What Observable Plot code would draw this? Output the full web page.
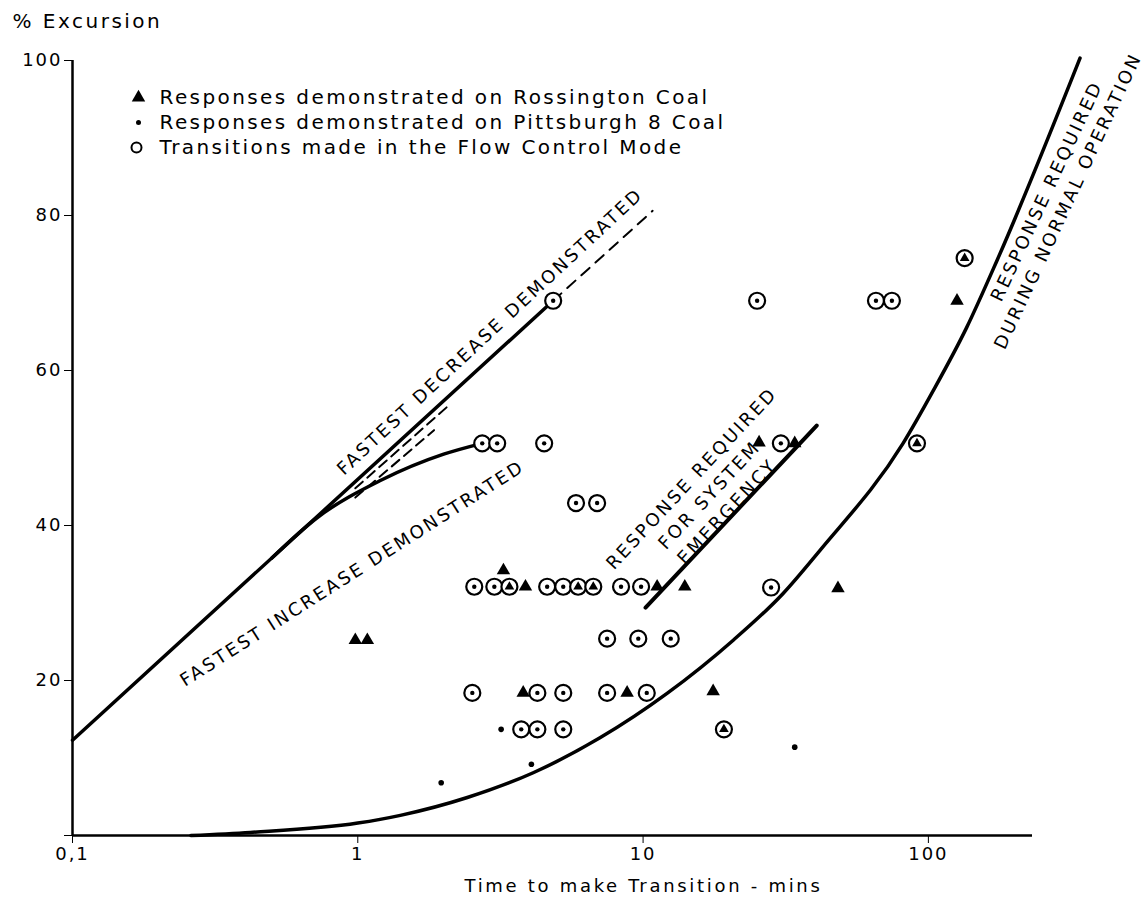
<!DOCTYPE html>
<html><head><meta charset="utf-8">
<script src="https://cdn.jsdelivr.net/npm/d3@7"></script>
<script src="https://cdn.jsdelivr.net/npm/@observablehq/plot@0.6"></script>
<style>html,body{margin:0;padding:0;background:#fff}</style>
</head><body><div id="chart"></div>
<script>
// ---- data ----
const xTicks = [0.1, 1, 10, 100];
const xTickLabels = ["0,1", "1", "10", "100"];
const yTicks = [0, 20, 40, 60, 80, 100];
const yTitle = "% Excursion";
const xTitle = "Time to make Transition - mins";
const legendLabels = [
  "Responses demonstrated on Rossington Coal",
  "Responses demonstrated on Pittsburgh 8 Coal",
  "Transitions made in the Flow Control Mode"
];

// Rossington coal responses (filled triangles)
const rossington = [
  [0.98, 25.2], [1.08, 25.2], [3.24, 34.2], [3.87, 32.1], [11.2, 32.1], [14.0, 32.1],
  [48.2, 31.9], [3.80, 18.4], [8.79, 18.4], [17.6, 18.6], [25.5, 50.7], [34, 50.6], [126, 69]
];
// Pittsburgh 8 coal responses (small dots)
const pittsburgh = [[1.96, 6.8], [3.18, 13.7], [4.06, 9.2], [34, 11.4]];
// Flow control mode transitions (circles)
const flowControl = [
  [4.84, 69], [25.1, 69], [65.5, 69], [74.5, 69],
  [2.73, 50.6], [3.08, 50.6], [4.5, 50.6], [30.4, 50.6],
  [5.82, 42.9], [6.90, 42.9],
  [2.56, 32.1], [3.01, 32.1], [4.61, 32.1], [5.25, 32.1], [8.37, 32.1], [9.84, 32.1], [28.1, 32.0],
  [7.48, 25.4], [9.62, 25.4], [12.5, 25.4],
  [2.52, 18.4], [4.26, 18.4], [5.25, 18.4], [7.48, 18.4], [10.3, 18.4],
  [3.74, 13.7], [4.26, 13.7], [5.25, 13.7]
];
// Flow control transitions that are also Rossington responses (circle + triangle)
const flowAndRossington = [[3.40, 32.1], [5.92, 32.1], [6.69, 32.1], [19.2, 13.7], [91.2, 50.6], [134, 74.5]];

// Curves
const fastestDecrease = [[0.1, 12.3], [4.84, 69]];
const fastestDecreaseExt = [[4.84, 69], [10.8, 80.6]];
const dashUpper = [[0.98, 44.8], [2.1, 55.6]];
const dashLower = [[0.98, 43.6], [1.85, 52.3]];
const fastestIncrease = [[0.5, 35.8], [0.72, 41.0], [1.2, 45.8], [2.0, 49.2], [2.73, 50.6]];
const emergency = [[10.2, 29.4], [40.6, 52.9]];
const normalOp = [
  [0.26, 0], [0.42, 0.4], [1.0, 1.6], [1.41, 2.6], [2.42, 4.9], [4.12, 8.1], [7.06, 12.6],
  [12.1, 18.3], [20.7, 25.2], [30.9, 31.2], [41.7, 36.8], [81.5, 50.6], [104, 57.4],
  [136, 65.5], [174, 74.2], [340, 100.3]
];

// Curve annotations (anchored in data space)
const labelDecrease = {x: 2.91, y: 65.0, text: "FASTEST DECREASE DEMONSTRATED"};
const labelIncrease = {x: 0.957, y: 33.8, text: "FASTEST INCREASE DEMONSTRATED"};
const labelEmergency = {x: 16.9, y: 44.1, text: "RESPONSE REQUIRED\nFOR SYSTEM\nEMERGENCY"};
const labelNormal = {x: 280, y: 82.6, text: "RESPONSE REQUIRED\nDURING NORMAL OPERATION"};

// ---- chart ----
const F = "'DejaVu Sans', sans-serif";
const lineOpts = {x: d => d[0], y: d => d[1], stroke: "black", strokeWidth: 3.5, curve: "monotone-x"};
const legendText = (label, dy) => Plot.text([label], {frameAnchor: "top-left", dx: 87, dy, text: d => d, textAnchor: "start", lineAnchor: "middle", fontSize: 20, fill: "black", ariaDescription: "legend"});

const plot = Plot.plot({
  width: 1148,
  height: 901,
  marginLeft: 72,
  marginRight: 116,
  marginTop: 60,
  marginBottom: 66,
  style: {fontFamily: F, fontSize: "18px", color: "black", background: "white", letterSpacing: "2px"},
  x: {type: "log", domain: [0.1, 231.7], ticks: xTicks, tickFormat: d => xTickLabels[xTicks.indexOf(d)] ?? "", tickSize: 8, tickPadding: 4, label: null},
  y: {domain: [0, 100], ticks: yTicks, tickFormat: d => d === 0 ? "" : String(d), tickSize: 8, tickPadding: 2, label: null},
  marks: [
    Plot.ruleX([0.1], {stroke: "black", strokeWidth: 2.5}),
    Plot.ruleY([0], {stroke: "black", strokeWidth: 2.5}),
    Plot.line(fastestDecrease, {...lineOpts}),
    Plot.line(fastestDecreaseExt, {x: d => d[0], y: d => d[1], stroke: "black", strokeWidth: 2, strokeDasharray: "11,8"}),
    Plot.line(dashUpper, {x: d => d[0], y: d => d[1], stroke: "black", strokeWidth: 2, strokeDasharray: "10,6"}),
    Plot.line(dashLower, {x: d => d[0], y: d => d[1], stroke: "black", strokeWidth: 2, strokeDasharray: "10,6"}),
    Plot.line(fastestIncrease, {...lineOpts}),
    Plot.line(emergency, {...lineOpts, strokeWidth: 4}),
    Plot.line(normalOp, {...lineOpts}),
    // markers
    Plot.dot(flowControl, {x: d => d[0], y: d => d[1], r: 8, stroke: "black", strokeWidth: 2.2, fill: "white"}),
    Plot.dot(flowControl, {x: d => d[0], y: d => d[1], r: 2.2, fill: "black"}),
    Plot.dot(flowAndRossington, {x: d => d[0], y: d => d[1], r: 8, stroke: "black", strokeWidth: 2.2, fill: "white"}),
    Plot.dot(flowAndRossington, {x: d => d[0], y: d => d[1], r: 3.6, symbol: "triangle", fill: "black"}),
    Plot.dot(rossington, {x: d => d[0], y: d => d[1], r: 5, symbol: "triangle", fill: "black"}),
    Plot.dot(pittsburgh, {x: d => d[0], y: d => d[1], r: 2.8, fill: "black"}),
    // curve labels
    Plot.text([labelDecrease], {x: "x", y: "y", text: "text", rotate: -43, fontSize: 18, fill: "black", ariaDescription: "curve-label"}),
    Plot.text([labelIncrease], {x: "x", y: "y", text: "text", rotate: -32.5, fontSize: 18, fill: "black", ariaDescription: "curve-label"}),
    Plot.text([labelEmergency], {x: "x", y: "y", text: "text", rotate: -47, fontSize: 18, lineHeight: 1.35, fill: "black", ariaDescription: "curve-label"}),
    Plot.text([labelNormal], {x: "x", y: "y", text: "text", rotate: -65, fontSize: 18, lineHeight: 1.3, fill: "black", ariaDescription: "curve-label"}),
    // legend
    Plot.dot([legendLabels[0]], {frameAnchor: "top-left", dx: 66, dy: 37, r: 5, symbol: "triangle", fill: "black"}),
    Plot.dot([legendLabels[1]], {frameAnchor: "top-left", dx: 66, dy: 62, r: 2.5, fill: "black"}),
    Plot.dot([legendLabels[2]], {frameAnchor: "top-left", dx: 64, dy: 87, r: 5, stroke: "black", strokeWidth: 2, fill: "white"}),
    legendText(legendLabels[0], 37),
    legendText(legendLabels[1], 62),
    legendText(legendLabels[2], 87),
    // axis titles
    Plot.text([yTitle], {frameAnchor: "top-left", dx: -60, dy: -39, text: d => d, textAnchor: "start", lineAnchor: "middle", fontSize: 20, fill: "black", ariaDescription: "ytitle"}),
    Plot.text([xTitle], {frameAnchor: "bottom", dx: 91, dy: 51, text: d => d, textAnchor: "middle", lineAnchor: "middle", fontSize: 18, fill: "black", ariaDescription: "xtitle"})
  ]
});
document.getElementById("chart").appendChild(plot);

d3.select(plot).selectAll('g[aria-description="curve-label"]').attr("letter-spacing", "2.6px");
d3.select(plot).selectAll('g[aria-description="legend"]').attr("letter-spacing", "2.4px");
d3.select(plot).selectAll('g[aria-description="ytitle"]').attr("letter-spacing", "2.5px");
d3.select(plot).selectAll('g[aria-description="xtitle"]').attr("letter-spacing", "2.7px");
</script>
</body></html>
